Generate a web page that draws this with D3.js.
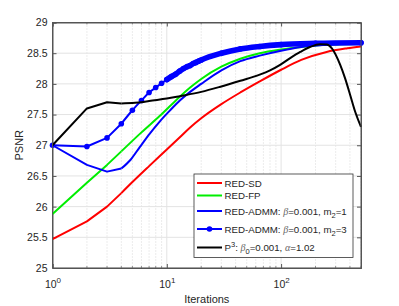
<!DOCTYPE html>
<html>
<head>
<meta charset="utf-8">
<script src="https://cdn.jsdelivr.net/npm/d3@7"></script>
<style>
  body { margin: 0; background: #fff; }
  svg { font-family: "Liberation Sans", Arial, Helvetica, sans-serif; }
</style>
</head>
<body>
<div id="chart"></div>
<script>
// Data (iterations, PSNR)
const sdIter = [1, 2, 3, 4, 5, 7, 10, 13, 16, 20, 30, 44, 65, 100, 150, 250, 380, 500];
const sdPsnr = [25.47, 25.76, 26.00, 26.22, 26.40, 26.66, 26.93, 27.13, 27.29, 27.44, 27.67, 27.86, 28.04, 28.23, 28.39, 28.52, 28.58, 28.61];

const fpIter = [1, 2, 3, 4, 6, 8.7, 12, 16, 20, 30, 44, 65, 100, 150, 270, 500];
const fpPsnr = [25.88, 26.39, 26.68, 26.90, 27.21, 27.48, 27.73, 27.94, 28.08, 28.28, 28.41, 28.50, 28.56, 28.60, 28.64, 28.65];

const ad1Iter = [1, 2, 3, 4, 4.8, 5.8, 7.1, 8.7, 10.7, 13, 16, 20, 30, 44, 65, 100, 150, 270, 500];
const ad1Psnr = [27.0, 26.68, 26.57, 26.62, 26.76, 26.97, 27.19, 27.39, 27.57, 27.73, 27.87, 28.00, 28.22, 28.37, 28.46, 28.54, 28.60, 28.64, 28.66];

const ad3Iter = [1, 2, 3, 4, 5, 6, 7, 8, 9, 10, 11, 12, 13, 14, 15, 16, 17, 18, 19, 20, 30, 44, 65, 100, 200, 500];
const ad3Psnr = [27.0, 26.98, 27.12, 27.35, 27.57, 27.73, 27.86, 27.94, 28.01, 28.07, 28.12, 28.16, 28.21, 28.25, 28.28, 28.30, 28.33, 28.35, 28.37, 28.39, 28.50, 28.57, 28.61, 28.64, 28.66, 28.67];

const p3Iter = [1, 2, 3, 4, 5, 6, 7, 10, 13, 20, 29, 44, 65, 80, 98, 120, 147, 179, 219, 251, 278, 329, 363, 402, 444, 500];
const p3Psnr = [27.0, 27.60, 27.70, 27.68, 27.69, 27.70, 27.72, 27.76, 27.80, 27.87, 27.95, 28.05, 28.15, 28.22, 28.31, 28.42, 28.52, 28.60, 28.645, 28.64, 28.58, 28.31, 28.09, 27.82, 27.55, 27.30];

const yTicks = [25, 25.5, 26, 26.5, 27, 27.5, 28, 28.5, 29];
const xDecades = [1, 10, 100];

const W = 399, H = 306;
const mLeft = 52.5, mRight = 361, mTop = 22.5, mBottom = 268;

const svg = d3.select("#chart").append("svg").attr("width", W).attr("height", H);

const x = d3.scaleLog().domain([1, 500]).range([mLeft, mRight]);
const y = d3.scaleLinear().domain([25, 29]).range([mBottom, mTop]);

// grid
const minor = x.ticks().filter(v => !xDecades.includes(v));
svg.append("g").selectAll("line").data(minor).enter().append("line")
    .attr("x1", d => x(d)).attr("x2", d => x(d))
    .attr("y1", mTop).attr("y2", mBottom)
    .attr("stroke", "#c8c8c8").attr("stroke-width", 0.7)
    .attr("stroke-dasharray", "1,2");
svg.append("g").selectAll("line").data(xDecades).enter().append("line")
    .attr("x1", d => x(d)).attr("x2", d => x(d))
    .attr("y1", mTop).attr("y2", mBottom)
    .attr("stroke", "#e3e3e3").attr("stroke-width", 1);
svg.append("g").selectAll("line").data(yTicks).enter().append("line")
    .attr("x1", mLeft).attr("x2", mRight)
    .attr("y1", d => y(d)).attr("y2", d => y(d))
    .attr("stroke", "#e3e3e3").attr("stroke-width", 1);

// axes
const axisColor = "#555";
const xAxis = svg.append("g").attr("transform", `translate(0,${mBottom})`)
    .call(d3.axisBottom(x).tickValues(xDecades).tickSize(-4).tickPadding(8).tickFormat(""));
const yAxis = svg.append("g").attr("transform", `translate(${mLeft},0)`)
    .call(d3.axisLeft(y).tickValues(yTicks).tickSize(-4).tickPadding(5).tickFormat(d => d));
svg.append("g").attr("transform", `translate(0,${mTop})`)
    .call(d3.axisTop(x).tickValues(xDecades).tickSize(-4).tickFormat(""));
svg.append("g").attr("transform", `translate(${mRight},0)`)
    .call(d3.axisRight(y).tickValues(yTicks).tickSize(-4).tickFormat(""));
// minor x ticks
[mBottom, mTop].forEach(yy => {
  svg.append("g").selectAll("line").data(minor).enter().append("line")
      .attr("x1", d => x(d)).attr("x2", d => x(d))
      .attr("y1", yy).attr("y2", yy === mBottom ? yy - 2 : yy + 2)
      .attr("stroke", axisColor).attr("stroke-width", 0.6);
});
svg.selectAll(".domain, .tick line").attr("stroke", axisColor);
yAxis.selectAll("text").attr("font-size", 10.5).attr("fill", "#262626")
    .attr("font-family", "Liberation Sans, Arial, sans-serif");

// x tick labels 10^k
xAxis.selectAll(".tick").each(function(d) {
  const t = d3.select(this).append("text")
      .attr("y", 20).attr("text-anchor", "middle")
      .attr("fill", "#262626").attr("font-size", 10.5);
  t.append("tspan").text("10");
  t.append("tspan").attr("dy", -5).attr("font-size", 8).text(Math.round(Math.log10(d)));
});

// axis titles
svg.append("text").attr("x", (mLeft + mRight) / 2).attr("y", 303)
    .attr("text-anchor", "middle").attr("font-size", 11).attr("fill", "#262626")
    .text("Iterations");
svg.append("text").attr("transform", `translate(23,${(mTop + mBottom) / 2}) rotate(-90)`)
    .attr("text-anchor", "middle").attr("font-size", 11).attr("fill", "#262626")
    .text("PSNR");

// lines: straight segments over the first iterations, smooth after
const linLine = d3.line().x(d => x(d[0])).y(d => y(d[1]));
const smoothLine = d3.line().x(d => x(d[0])).y(d => y(d[1])).curve(d3.curveMonotoneX);
const pairs = (it, v) => it.map((d, i) => [d, v[i]]);
const plot = svg.append("g");

function drawSeries(data, color, width) {
  const g = plot.append("g").attr("fill", "none").attr("stroke", color)
      .attr("stroke-width", width).attr("stroke-linejoin", "round");
  g.append("path").attr("d", linLine(data.filter(d => d[0] <= 4)));
  g.append("path").attr("d", smoothLine(data.filter(d => d[0] >= 4)));
}

drawSeries(pairs(sdIter, sdPsnr), "#ff0000", 2);
drawSeries(pairs(fpIter, fpPsnr), "#00ee00", 2);
drawSeries(pairs(ad1Iter, ad1Psnr), "#0000ff", 2);

const ad3 = pairs(ad3Iter, ad3Psnr);
drawSeries(ad3, "#0000ff", 2);
// markers overlap into a thick band from ~10 iterations on
plot.append("path").datum(ad3.filter(d => d[0] >= 10)).attr("d", smoothLine)
    .attr("fill", "none").attr("stroke", "#0000ff").attr("stroke-width", 5.6)
    .attr("stroke-linecap", "round");
plot.selectAll("circle.m").data(ad3).enter().append("circle")
    .attr("cx", d => x(d[0])).attr("cy", d => y(d[1])).attr("r", 2.8)
    .attr("fill", "#0000ff");

drawSeries(pairs(p3Iter, p3Psnr), "#000", 2);

// box
svg.append("rect").attr("x", mLeft).attr("y", mTop).attr("width", mRight - mLeft).attr("height", mBottom - mTop)
    .attr("fill", "none").attr("stroke", axisColor).attr("stroke-width", 1);

// legend
const lg = svg.append("g");
lg.append("rect").attr("x", 194).attr("y", 174).attr("width", 159).attr("height", 83.5)
    .attr("fill", "#fff").attr("stroke", "#333").attr("stroke-width", 0.8);
const legendRows = [
  { y: 183, color: "#ff0000", parts: [["RED-SD"]] },
  { y: 195.5, color: "#00ee00", parts: [["RED-FP"]] },
  { y: 211, color: "#0000ff", parts: [["RED-ADMM: "], ["β", "it"], ["=0.001, m"], ["2", "sub"], ["=1", "back"]] },
  { y: 229, color: "#0000ff", marker: true, parts: [["RED-ADMM: "], ["β", "it"], ["=0.001, m"], ["2", "sub"], ["=3", "back"]] },
  { y: 247.5, color: "#000", parts: [["P"], ["3", "sup"], [": ", "backsup"], ["β", "it"], ["0", "sub"], ["=0.001, ", "back"], ["α", "it"], ["=1.02"]] }
];
legendRows.forEach(r => {
  lg.append("line").attr("x1", 197).attr("x2", 222).attr("y1", r.y).attr("y2", r.y)
      .attr("stroke", r.color).attr("stroke-width", 2);
  if (r.marker) lg.append("circle").attr("cx", 209.5).attr("cy", r.y).attr("r", 2.8).attr("fill", r.color);
  const t = lg.append("text").attr("x", 224.5).attr("y", r.y + 3.6)
      .attr("font-size", 9.7).attr("fill", "#262626");
  r.parts.forEach(p => {
    const s = t.append("tspan").text(p[0]);
    if (p[1] === "it") s.attr("font-family", "Liberation Serif, serif").attr("font-style", "italic").attr("fill", "#666").attr("font-size", 10);
    if (p[1] === "sub") s.attr("dy", 3).attr("font-size", 7.5);
    if (p[1] === "sup") s.attr("dy", -4).attr("font-size", 7.5);
    if (p[1] === "back") s.attr("dy", -3);
    if (p[1] === "backsup") s.attr("dy", 4);
  });
});
</script>
</body>
</html>
